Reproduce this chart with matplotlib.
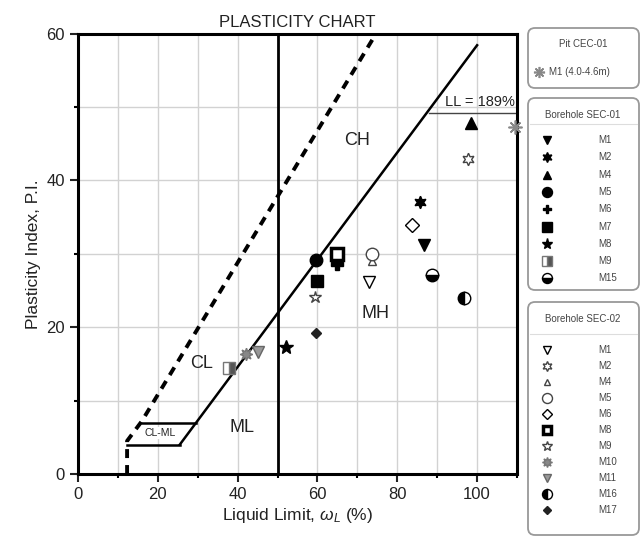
import numpy as np
import matplotlib.pyplot as plt
from matplotlib.patches import FancyBboxPatch

plt.rcParams['font.family'] = ['Liberation Sans', 'DejaVu Sans']
plt.rcParams['mathtext.fontset'] = 'custom'
plt.rcParams['mathtext.it'] = 'Liberation Sans:italic'
plt.rcParams['mathtext.rm'] = 'Liberation Sans'

# Borehole SEC-01 samples (liquid limit, plasticity index)
sec01_labels = ['M1', 'M2', 'M4', 'M5', 'M6', 'M7', 'M8', 'M9', 'M15']
sec01_ll = [86.6, 85.6, 98.4, 59.7, 65.0, 59.8, 52.0, 37.8, 88.7]
sec01_pi = [31.2, 37.0, 47.8, 29.1, 28.6, 26.3, 17.3, 14.4, 27.1]

# Borehole SEC-02 samples
sec02_labels = ['M1', 'M2', 'M4', 'M5', 'M6', 'M8', 'M9', 'M10', 'M11', 'M16', 'M17']
sec02_ll = [72.8, 97.6, 73.7, 73.7, 83.7, 64.9, 59.5, 42.0, 45.0, 96.6, 59.7]
sec02_pi = [26.2, 42.9, 29.0, 30.0, 33.9, 29.9, 24.1, 16.3, 16.6, 24.0, 19.2]

# Pit CEC-01 (LL off the chart, drawn at the edge)
pit_labels = ['M1 (4.0-4.6m)']
pit_ll = [189.0]
pit_pi = [47.3]

# reference lines
a_line_ll = [25.5, 100]
a_line_pi = [4.0, 58.4]
u_line_ll = [12.3, 12.3, 16.0, 74.7]
u_line_pi = [0.0, 4.5, 7.2, 60.0]
clml_low_ll = [12.3, 25.5]
clml_low_pi = [4.0, 4.0]
clml_high_ll = [16.0, 29.6]
clml_high_pi = [7.0, 7.0]

X_MAX = 110

# marker styles
star6 = (6, 1, 0)
sec01_style = [
    dict(marker='v', ms=8, mfc='k', mec='k'),
    dict(marker=star6, ms=9, mfc='k', mec='k'),
    dict(marker='^', ms=8, mfc='k', mec='k'),
    dict(marker='o', ms=9, mfc='k', mec='k'),
    dict(marker='P', ms=8, mfc='k', mec='k'),
    dict(marker='s', ms=9, mfc='k', mec='k'),
    dict(marker='*', ms=10, mfc='k', mec='k'),
    dict(marker='s', ms=9, mfc='#555555', mec='#777777', fillstyle='right', mfcalt='white'),
    dict(marker='o', ms=9, mfc='k', mec='k', fillstyle='bottom', mfcalt='white'),
]
sec02_style = [
    dict(marker='v', ms=8, mfc='white', mec='k', mew=1),
    dict(marker=star6, ms=9, mfc='white', mec='#444444', mew=1),
    dict(marker='^', ms=6, mfc='white', mec='#444444', mew=1),
    dict(marker='o', ms=9, mfc='white', mec='#444444', mew=1),
    dict(marker='D', ms=7, mfc='white', mec='k', mew=1),
    dict(marker='s', ms=8, mfc='white', mec='k', mew=2.5),
    dict(marker='*', ms=9, mfc='white', mec='#444444', mew=1),
    dict(marker=(8, 1, 0), ms=9, mfc='#888888', mec='#777777', mew=1),
    dict(marker='v', ms=8, mfc='#999999', mec='#666666', mew=1),
    dict(marker='o', ms=9, mfc='k', mec='k', fillstyle='left', mfcalt='white'),
    dict(marker='D', ms=5, mfc='#222222', mec='#222222'),
]
pit_style = [dict(marker=(8, 2, 0), ms=10, mfc='#999999', mec='#888888', mew=1.2)]

fig = plt.figure(figsize=(6.42, 5.39), dpi=100)
ax = fig.add_axes([78 / 642, 65 / 539, 439 / 642, 440.5 / 539])

ax.set_xlim(0, X_MAX)
ax.set_ylim(0, 60)
ax.set_xticks(np.arange(0, 101, 20))
ax.set_xticks(np.arange(10, 111, 10), minor=True)
ax.set_yticks(np.arange(0, 61, 20))
ax.set_yticks(np.arange(10, 61, 10), minor=True)
ax.grid(True, which='both', color='#d2d2d2', lw=1)
ax.set_axisbelow(True)
ax.tick_params(which='major', direction='out', length=6, width=1.5, labelsize=12, colors='#222222')
ax.tick_params(which='minor', direction='out', length=3, width=1.5)
for s in ax.spines.values():
    s.set_linewidth(2.2)

ax.axvline(50, color='k', lw=2)
ax.plot(a_line_ll, a_line_pi, color='k', lw=1.8)
ax.plot(u_line_ll, u_line_pi, color='k', lw=2.8, ls=(0, (2.3, 1.8)))
ax.plot(clml_low_ll, clml_low_pi, color='k', lw=1.8)
ax.plot(clml_high_ll, clml_high_pi, color='k', lw=1.8)

for i in range(len(sec01_ll)):
    ax.plot(sec01_ll[i], sec01_pi[i], ls='none', zorder=4, **sec01_style[i])
for i in range(len(sec02_ll)):
    ax.plot(sec02_ll[i], sec02_pi[i], ls='none', zorder=4, **sec02_style[i])
for i in range(len(pit_ll)):
    ax.plot(min(pit_ll[i], X_MAX - 0.5), pit_pi[i], ls='none', zorder=5,
            clip_on=False, **pit_style[i])
    ax.text(X_MAX - 0.5, pit_pi[i] + 3.4, 'LL = %d%%' % pit_ll[i], ha='right', va='center',
            fontsize=10.5, color='#222222')
    ax.plot([88, X_MAX], [pit_pi[i] + 1.9] * 2, color='#444444', lw=1)

ax.text(31, 15.0, 'CL', fontsize=13, ha='center', va='center', color='#222222')
ax.text(41, 6.4, 'ML', fontsize=13, ha='center', va='center', color='#222222')
ax.text(70, 45.4, 'CH', fontsize=13, ha='center', va='center', color='#222222')
ax.text(74.5, 21.9, 'MH', fontsize=13, ha='center', va='center', color='#222222')
ax.text(20.5, 5.6, 'CL-ML', fontsize=7.5, ha='center', va='center', color='#222222',
        bbox=dict(facecolor='white', edgecolor='none', pad=0.5))

ax.set_title('PLASTICITY CHART', fontsize=12, color='#222222', pad=5)
ax.set_xlabel('Liquid Limit, $\\omega_L$ (%)', fontsize=12.5, color='#222222', labelpad=3)
ax.set_ylabel('Plasticity Index, P.I.', fontsize=12.5, color='#222222', labelpad=4)

# legend panel in pixel coordinates
lg = fig.add_axes([525 / 642, 0, 117 / 642, 1])
lg.set_xlim(525, 642)
lg.set_ylim(539, 0)
lg.axis('off')


def box(y0, y1, title, ysep=None):
    lg.add_patch(FancyBboxPatch((528, y0), 111, y1 - y0,
                                boxstyle='round,pad=0,rounding_size=7',
                                fc='white', ec='#999999', lw=1.3, clip_on=False))
    lg.text(583, y0 + (17 if ysep else 16), title, fontsize=7, ha='center', va='center',
            color='#444444')
    if ysep:
        lg.plot([530, 637], [ysep, ysep], color='#dddddd', lw=0.8)


box(28, 88, 'Pit CEC-01')
lg.plot(539, 72, ls='none', **dict(pit_style[0], ms=8))
lg.text(549, 72, pit_labels[0], fontsize=7, va='center', color='#444444')

box(98, 290, 'Borehole SEC-01', ysep=124)
for i, lab in enumerate(sec01_labels):
    y = 140 + i * 17.3
    st = dict(sec01_style[i])
    st['ms'] = st['ms'] * 0.8
    lg.plot(547, y, ls='none', **st)
    lg.text(598, y, lab, fontsize=7, va='center', color='#444444')

box(302, 535, 'Borehole SEC-02', ysep=334)
for i, lab in enumerate(sec02_labels):
    y = 350 + i * 16
    st = dict(sec02_style[i])
    st['ms'] = st['ms'] * 0.8
    lg.plot(547, y, ls='none', **st)
    lg.text(598, y, lab, fontsize=7, va='center', color='#444444')

fig.savefig('out.png', dpi=100)
